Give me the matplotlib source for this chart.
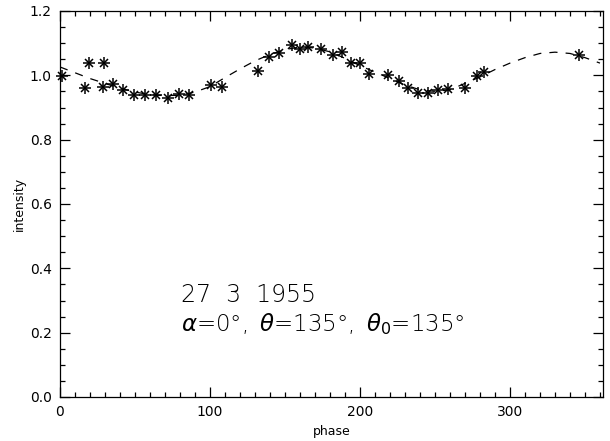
import numpy as np
import matplotlib
matplotlib.use('Agg')
import matplotlib.pyplot as plt
from matplotlib.ticker import MultipleLocator

# observed points (phase, intensity)
phase_obs = [1, 16.7, 19.3, 28.7, 29.3, 35.3, 42, 49.3, 56.7, 64, 72, 79.3, 86,
             100.7, 108, 132, 139.3, 146, 154.7, 160, 165.3, 174, 182, 188,
             194, 200, 206, 218.7, 226, 232, 238.7, 245.3, 252, 258.7, 270,
             278, 282.7, 346]
intensity_obs = [0.998, 0.961, 1.038, 0.964, 1.038, 0.973, 0.955, 0.938, 0.938,
                 0.938, 0.929, 0.941, 0.938, 0.970, 0.964, 1.013, 1.057, 1.069,
                 1.094, 1.082, 1.088, 1.082, 1.063, 1.073, 1.038, 1.038, 1.004,
                 1.001, 0.982, 0.961, 0.946, 0.946, 0.953, 0.956, 0.960, 0.998,
                 1.010, 1.063]

# model curve
phase_model = list(range(0, 361, 10))
intensity_model = [1.026, 1.008, 0.990, 0.975, 0.960, 0.948, 0.940, 0.937, 0.938,
                   0.948, 0.965, 0.993, 1.020, 1.045, 1.065, 1.080, 1.088, 1.085,
                   1.073, 1.053, 1.030, 1.010, 0.990, 0.970, 0.955, 0.950, 0.955,
                   0.975, 0.995, 1.018, 1.038, 1.055, 1.068, 1.072, 1.068, 1.055,
                   1.038]

date_label = '27  3  1955'
angle_label = r'$\alpha$=0°,$\,$ $\theta$=135°,$\,$ $\theta_0$=135°'

plt.rcParams['font.family'] = 'DejaVu Sans'
plt.rcParams['mathtext.fontset'] = 'dejavusans'

fig = plt.figure(figsize=(6.10, 4.41), dpi=100)
ax = fig.add_axes([60 / 610, 44 / 441, 543 / 610, 386 / 441])

ax.plot(phase_model, intensity_model, color='black', lw=0.9, dashes=(6.5, 6.5))
ax.plot(phase_obs, intensity_obs, linestyle='none', marker='+', ms=8,
        mew=1.1, color='black', clip_on=False)
ax.plot(phase_obs, intensity_obs, linestyle='none', marker='x', ms=6,
        mew=1.1, color='black', clip_on=False)

ax.set_xlim(0, 362)
ax.set_ylim(0, 1.2)
ax.xaxis.set_major_locator(MultipleLocator(100))
ax.xaxis.set_minor_locator(MultipleLocator(10))
ax.yaxis.set_major_locator(MultipleLocator(0.2))
ax.yaxis.set_minor_locator(MultipleLocator(0.05))
ax.yaxis.set_major_formatter(plt.FuncFormatter(lambda v, p: f'{v:.1f}'))
ax.tick_params(which='both', direction='in', top=True, right=True,
               labelsize=10, width=0.9, color='black')
ax.tick_params(which='major', length=7, pad=6)
ax.tick_params(which='minor', length=3.6)
for s in ax.spines.values():
    s.set_linewidth(0.9)

ax.set_xlabel('phase', fontsize=9, labelpad=4)
ax.set_ylabel('intensity', fontsize=9, labelpad=3)

ax.text(80.5, 0.296, date_label, fontsize=17, fontweight='light', va='baseline')
ax.text(80.5, 0.205, angle_label, fontsize=16.5, fontweight='light', va='baseline')

fig.savefig('out.png', dpi=100)
